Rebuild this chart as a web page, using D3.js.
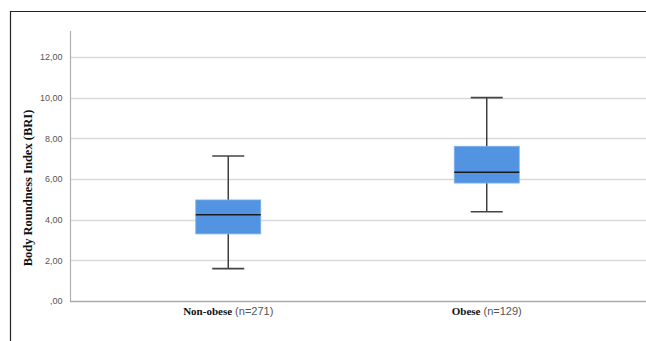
<!DOCTYPE html>
<html><head><meta charset="utf-8">
<script src="https://cdn.jsdelivr.net/npm/d3@7"></script>
<style>body{margin:0;background:#fff;}svg{display:block;}</style>
</head><body>
<script>
const categories = ["Non-obese", "Obese"];
const nLabels = ["(n=271)", "(n=129)"];
const whiskerLow = [1.59, 4.39];
const q1 = [3.30, 5.80];
const median = [4.24, 6.33];
const q3 = [4.97, 7.61];
const whiskerHigh = [7.13, 10.0];
const yTicks = [0, 2, 4, 6, 8, 10, 12];

const W = 646, H = 341;
const svg = d3.select("body").append("svg").attr("width", W).attr("height", H);

// frame
svg.append("line").attr("x1", 10.5).attr("x2", 646).attr("y1", 11.5).attr("y2", 11.5).attr("stroke", "#222").attr("stroke-width", 1.2);
svg.append("line").attr("x1", 10.5).attr("x2", 10.5).attr("y1", 11).attr("y2", 341).attr("stroke", "#222").attr("stroke-width", 1.2);

const y = d3.scaleLinear().domain([0, 12]).range([301, 57]);
const x = d3.scaleBand().domain(categories).range([99, 616]);

// gridlines
svg.append("g").selectAll("line").data(yTicks.filter(d => d > 0)).join("line")
  .attr("x1", 70).attr("x2", 646)
  .attr("y1", d => Math.round(y(d)) + 0.5).attr("y2", d => Math.round(y(d)) + 0.5)
  .attr("stroke", "#d9d9d9").attr("stroke-width", 1.3);

// y axis
const yAxis = d3.axisLeft(y).tickValues(yTicks).tickSize(0).tickPadding(8)
  .tickFormat(d => d === 0 ? ",00" : d3.format(".2f")(d).replace(".", ","));
const ga = svg.append("g").attr("transform", "translate(70.5,0)").call(yAxis);
ga.select(".domain").remove();
ga.selectAll("text").attr("font-family", "Liberation Sans, Arial, sans-serif").attr("font-size", 9).attr("fill", "#555");
svg.append("line").attr("x1", 70.5).attr("x2", 70.5).attr("y1", 31).attr("y2", 301).attr("stroke", "#b0b0b0").attr("stroke-width", 1.2);
svg.append("line").attr("x1", 70).attr("x2", 646).attr("y1", 301.5).attr("y2", 301.5).attr("stroke", "#aaa").attr("stroke-width", 1.3);

// boxes
const idx = d3.range(categories.length);
const boxW = 65, capW = 32;
const g = svg.append("g");
idx.forEach(i => {
  const cx = x(categories[i]) + x.bandwidth() / 2;
  g.append("line").attr("x1", cx).attr("x2", cx).attr("y1", y(whiskerHigh[i])).attr("y2", y(whiskerLow[i])).attr("stroke", "#333").attr("stroke-width", 1.4);
  [whiskerHigh[i], whiskerLow[i]].forEach(v => {
    g.append("line").attr("x1", cx - capW / 2).attr("x2", cx + capW / 2).attr("y1", y(v)).attr("y2", y(v)).attr("stroke", "#444").attr("stroke-width", 1.6);
  });
  g.append("rect").attr("x", cx - boxW / 2).attr("width", boxW)
    .attr("y", y(q3[i])).attr("height", y(q1[i]) - y(q3[i]))
    .attr("fill", "#5394e2").attr("stroke", "#7fb0ec").attr("stroke-width", 0.8);
  g.append("line").attr("x1", cx - boxW / 2).attr("x2", cx + boxW / 2).attr("y1", y(median[i])).attr("y2", y(median[i])).attr("stroke", "#1a1a1a").attr("stroke-width", 1.6);
  const t = svg.append("text").attr("x", cx).attr("y", 315).attr("text-anchor", "middle");
  t.append("tspan").text(categories[i]).attr("font-family", "Liberation Serif, Times New Roman, serif").attr("font-weight", "bold").attr("font-size", 11).attr("fill", "#111");
  t.append("tspan").text(" " + nLabels[i]).attr("font-family", "Liberation Sans, Arial, sans-serif").attr("font-size", 11).attr("fill", "#555");
});

// y title
svg.append("text").attr("transform", "translate(32,188) rotate(-90)").attr("text-anchor", "middle")
  .attr("font-family", "Liberation Serif, Times New Roman, serif").attr("font-weight", "bold").attr("font-size", 12.5).attr("fill", "#111")
  .text("Body Roundness Index (BRI)");
</script>
</body></html>
